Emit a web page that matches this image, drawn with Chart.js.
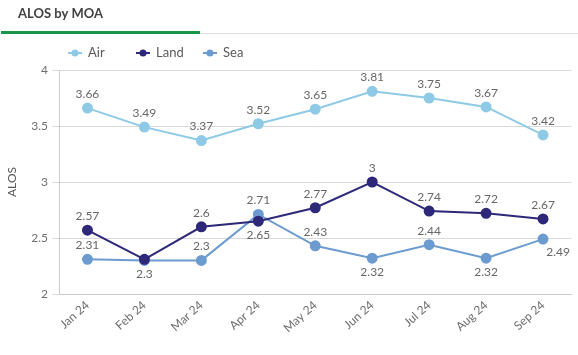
<!DOCTYPE html>
<html>
<head>
<meta charset="utf-8">
<script src="https://cdn.jsdelivr.net/npm/chart.js@4/dist/chart.umd.min.js"></script>
<style>
html,body{margin:0;padding:0;background:#fff;}
#wrap{width:578px;height:355px;position:relative;}
</style>
</head>
<body>
<div id="wrap"><canvas id="c" width="578" height="355"></canvas></div>
<script>
const categories = ['Jan 24','Feb 24','Mar 24','Apr 24','May 24','Jun 24','Jul 24','Aug 24','Sep 24'];
const airValues  = [3.66, 3.49, 3.37, 3.52, 3.65, 3.81, 3.75, 3.67, 3.42];
const landValues = [2.57, 2.31, 2.6, 2.65, 2.77, 3, 2.74, 2.72, 2.67];
const seaValues  = [2.31, 2.3, 2.3, 2.71, 2.43, 2.32, 2.44, 2.32, 2.49];
const yTicks = [2, 2.5, 3, 3.5, 4];

const FONT = 'Lato, "Open Sans", sans-serif';
const colors = { air: '#8ecae6', land: '#2d2878', sea: '#6b9bcf' };

// label placement per point (style, not data)
const labelPlace = {
  0: ['a','a','a','a','a','a','a','a','a'],
  1: ['a','n','a','b','a','a','a','a','a'],
  2: ['a','b','a','a','a','b','a','b','br']
};

const labelsPlugin = {
  id: 'pointLabels',
  afterDatasetsDraw(chart) {
    const ctx = chart.ctx;
    ctx.save();
    ctx.font = '12px ' + FONT;
    ctx.fillStyle = '#666666';
    ctx.textAlign = 'center';
    ctx.textBaseline = 'middle';
    chart.data.datasets.forEach((ds, di) => {
      const meta = chart.getDatasetMeta(di);
      meta.data.forEach((pt, i) => {
        const p = labelPlace[di][i];
        if (p === 'n') return;
        let x = pt.x, y = pt.y;
        if (p === 'a') y -= 14;
        else if (p === 'b') y += 14;
        else if (p === 'br') { x += 15; y += 13; }
        ctx.fillText(String(ds.data[i]), x, y);
      });
    });
    ctx.restore();
  }
};

const headerPlugin = {
  id: 'header',
  afterDraw(chart) {
    const ctx = chart.ctx;
    ctx.save();
    // title
    ctx.font = 'bold 13px ' + FONT;
    ctx.fillStyle = '#404040';
    ctx.textAlign = 'left';
    ctx.textBaseline = 'middle';
    ctx.fillText('ALOS by MOA', 18, 14);
    // underline
    ctx.fillStyle = '#e0e0e0';
    ctx.fillRect(200, 33, 378, 1);
    ctx.fillStyle = '#1a9448';
    ctx.fillRect(1, 31, 199, 3);
    // legend
    const items = [
      {t: 'Air', c: colors.air, x: 68},
      {t: 'Land', c: colors.land, x: 136},
      {t: 'Sea', c: colors.sea, x: 203}
    ];
    const ly = 53;
    ctx.font = '13px ' + FONT;
    items.forEach(it => {
      ctx.strokeStyle = it.c;
      ctx.lineWidth = 2;
      ctx.beginPath();
      ctx.moveTo(it.x, ly);
      ctx.lineTo(it.x + 14, ly);
      ctx.stroke();
      ctx.fillStyle = it.c;
      ctx.beginPath();
      ctx.arc(it.x + 7, ly, 3.5, 0, Math.PI * 2);
      ctx.fill();
      ctx.fillStyle = '#595959';
      ctx.fillText(it.t, it.x + 20, ly);
    });
    ctx.restore();
  }
};

function ds(label, data, color) {
  return {
    label, data,
    borderColor: color, backgroundColor: color,
    pointBackgroundColor: color, pointBorderColor: color,
    borderWidth: 2, pointRadius: 4.5, pointHoverRadius: 4.5,
    tension: 0, fill: false
  };
}

new Chart(document.getElementById('c'), {
  type: 'line',
  data: {
    labels: categories,
    datasets: [
      ds('Air', airValues, colors.air),
      ds('Land', landValues, colors.land),
      ds('Sea', seaValues, colors.sea)
    ]
  },
  options: {
    responsive: false,
    animation: false,
    devicePixelRatio: 1,
    layout: { padding: { top: 70, right: 3, left: 0, bottom: 0 } },
    plugins: {
      legend: { display: false },
      tooltip: { enabled: false },
      title: { display: false }
    },
    scales: {
      x: {
        offset: true,
        grid: { display: false, drawTicks: false },
        border: { display: true, color: '#cccccc', width: 1 },
        ticks: {
          color: '#6e6e6e',
          font: { family: FONT, size: 12 },
          maxRotation: 42, minRotation: 42,
          padding: 4, autoSkip: false
        },
        afterFit(scale) { scale.height = 61; }
      },
      y: {
        min: 2, max: 4,
        afterBuildTicks(scale) { scale.ticks = yTicks.map(v => ({ value: v })); },
        grid: { color: '#d9d9d9', lineWidth: 1, tickLength: 7, tickColor: '#d9d9d9' },
        border: { display: true, color: '#cccccc', width: 1 },
        ticks: {
          color: '#6e6e6e',
          font: { family: FONT, size: 12 },
          padding: 4,
          callback: v => String(v)
        },
        title: {
          display: true, text: 'ALOS', color: '#595959',
          font: { family: FONT, size: 12 }, padding: { top: 5, bottom: 0 }
        },
        afterFit(scale) { scale.width = 59; }
      }
    }
  },
  plugins: [labelsPlugin, headerPlugin]
});
</script>
</body>
</html>
